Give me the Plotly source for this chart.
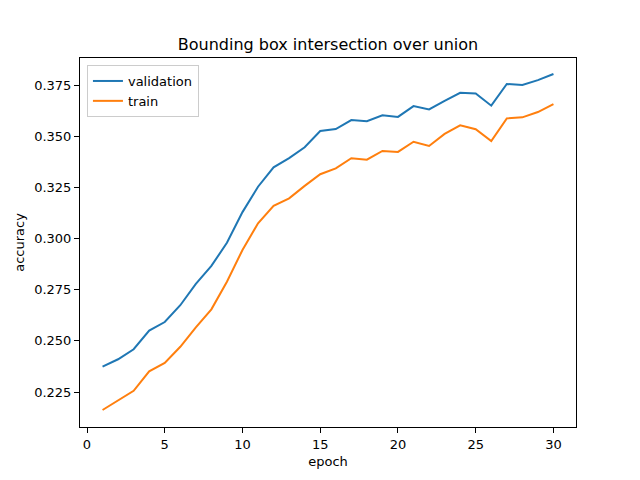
import plotly.graph_objects as go

# per-epoch IoU values
epochs = list(range(1, 31))
validation = [0.2374, 0.2410, 0.2459, 0.2550, 0.2592, 0.2674, 0.2778, 0.2866, 0.2979, 0.3129,
              0.3253, 0.3348, 0.3393, 0.3446, 0.3525, 0.3535, 0.3579, 0.3573, 0.3602, 0.3594,
              0.3647, 0.3631, 0.3673, 0.3712, 0.3709, 0.3649, 0.3755, 0.3750, 0.3774, 0.3804]
train = [0.2162, 0.2208, 0.2256, 0.2351, 0.2392, 0.2471, 0.2566, 0.2654, 0.2789, 0.2944,
         0.3074, 0.3160, 0.3196, 0.3257, 0.3314, 0.3343, 0.3392, 0.3385, 0.3428, 0.3423,
         0.3473, 0.3452, 0.3511, 0.3553, 0.3534, 0.3476, 0.3587, 0.3592, 0.3618, 0.3657]
x_ticks = [0, 5, 10, 15, 20, 25, 30]
y_ticks = [0.225, 0.250, 0.275, 0.300, 0.325, 0.350, 0.375]

fig = go.Figure()
fig.add_trace(go.Scatter(x=epochs, y=validation, mode='lines', name='validation',
                         line=dict(color='#1f77b4', width=2)))
fig.add_trace(go.Scatter(x=epochs, y=train, mode='lines', name='train',
                         line=dict(color='#ff7f0e', width=2)))

axis_style = dict(showgrid=False, zeroline=False, showline=True, linecolor='black',
                  linewidth=1, mirror=True, ticks='outside', ticklen=5, tickwidth=1,
                  tickcolor='black', tickfont=dict(size=13, color='black'),
                  automargin=False)

# the page body adds an 8px offset, so margins are shifted by that amount
fig.update_layout(
    width=640, height=480,
    paper_bgcolor='white', plot_bgcolor='white',
    font=dict(family='DejaVu Sans', color='black'),
    margin=dict(l=72, r=72, t=50, b=61, pad=0, autoexpand=False),
    title=dict(text='Bounding box intersection over union', x=0.5, xanchor='center',
               y=1 - 36 / 480, yanchor='middle', font=dict(size=16)),
    xaxis=dict(axis_style, range=[-0.45, 31.45], tickvals=x_ticks,
               title=dict(text='epoch', font=dict(size=13), standoff=6)),
    yaxis=dict(axis_style, range=[0.2079, 0.3882], tickvals=y_ticks, tickformat='.3f',
               title=dict(text='accuracy', font=dict(size=13), standoff=6)),
    legend=dict(x=0.014, y=0.981, xanchor='left', yanchor='top', bgcolor='white',
                bordercolor='#cccccc', borderwidth=1, font=dict(size=13), itemwidth=30,
                tracegroupgap=0),
    showlegend=True,
)

fig.write_html("out.html")
